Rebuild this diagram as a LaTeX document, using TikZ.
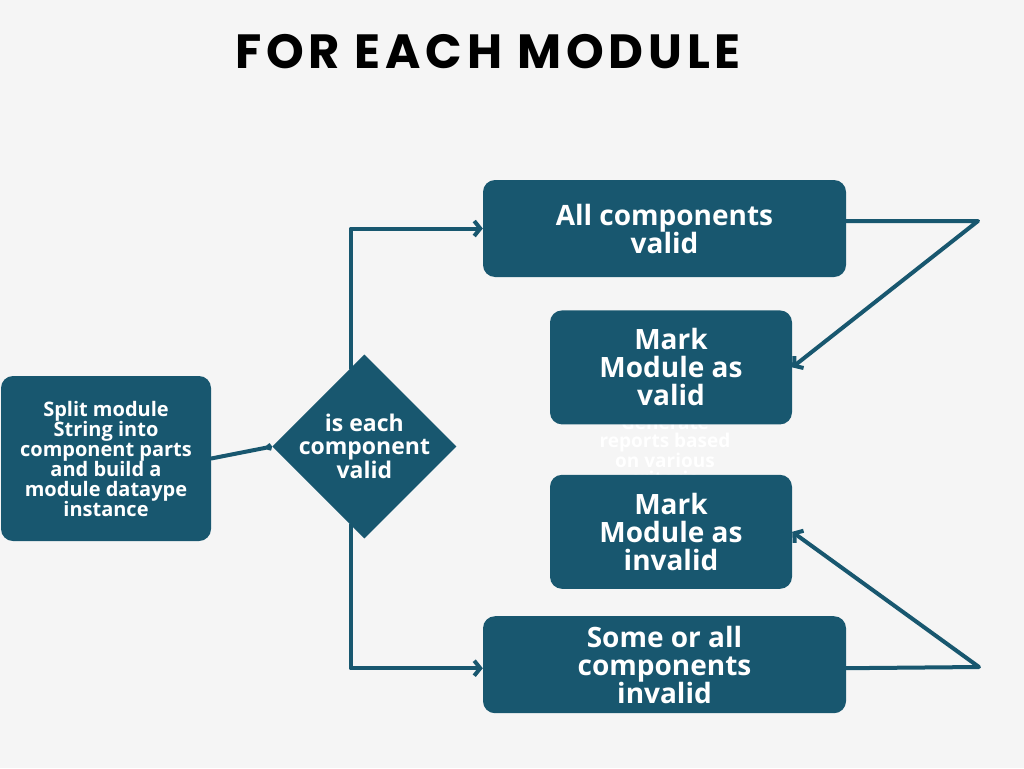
\documentclass[tikz,border=0pt]{standalone}
\usepackage{fontspec}
\setmainfont{Open Sans}
\newfontfamily\titlefont[LetterSpace=10]{Poppins}
\usetikzlibrary{arrows.meta,positioning,shapes.geometric}
\definecolor{boxblue}{HTML}{18576F}
\definecolor{canvas}{HTML}{F5F5F5}

\begin{document}
\begin{tikzpicture}[
    x=1pt, y=-1pt,
    box/.style={fill=boxblue, rounded corners=12pt, text=white, align=center, inner sep=0pt, font=\bfseries\fontsize{28}{28}\selectfont},
    decision/.style={diamond, fill=boxblue, inner sep=0pt, minimum size=184pt},
    ghost/.style={align=center, text=white, font=\bfseries\fontsize{19}{18}\selectfont},
    arrow/.style={-{Straight Barb[length=6pt,width=15pt]}, line width=4pt, draw=boxblue, line cap=round, line join=round},
    tiny arrow/.style={arrow, -{Straight Barb[length=1.5pt,width=6pt]}}
]
\fill[canvas] (0,0) rectangle (1024,768);
\node[font=\titlefont\bfseries\fontsize{48}{50}\selectfont] (title) at (488,52) {FOR EACH MODULE};
% half hidden text behind the two mark boxes
\node[ghost] (gen) at (665,451) {Generate\\reports based\\on various\\criteria};
\node[box, minimum width=210pt, minimum height=165pt, font=\bfseries\fontsize{20}{20}\selectfont] (split) at (106,458.5) {Split module\\String into\\component parts\\and build a\\module dataype\\instance};
\node[decision, right=61pt of split, yshift=12pt,
      label={[text=white, align=center, font=\bfseries\fontsize{23}{22.5}\selectfont]center:is each\\component\\valid}] (dec) {};
\node[box, minimum width=363pt, minimum height=97pt] (allv) at (664.5,228.5) {All components\\valid};
\node[box, minimum width=242pt, minimum height=114pt, below=33pt of allv, xshift=6.5pt] (markv) {Mark\\Module as\\valid};
\node[box, minimum width=242pt, minimum height=114pt, below=50pt of markv] (marki) {Mark\\Module as\\invalid};
\node[box, minimum width=363pt, minimum height=97pt, below=27pt of marki, xshift=-6.5pt] (somei) {Some or all\\components\\invalid};
\coordinate (topturn) at (978,221);
\coordinate (botturn) at (979,667);
\draw[tiny arrow] (split.east) -- (dec.west);
\draw[arrow] (dec.100) |- (allv.west);
\draw[arrow] (dec.260) |- ([yshift=-3.5pt]somei.west);
\draw[arrow] ([yshift=7.5pt]allv.east) -- (topturn) -- (markv.east);
\draw[arrow] ([yshift=-3.5pt]somei.east) -- (botturn) -- (marki.east);
\end{tikzpicture}
\end{document}
